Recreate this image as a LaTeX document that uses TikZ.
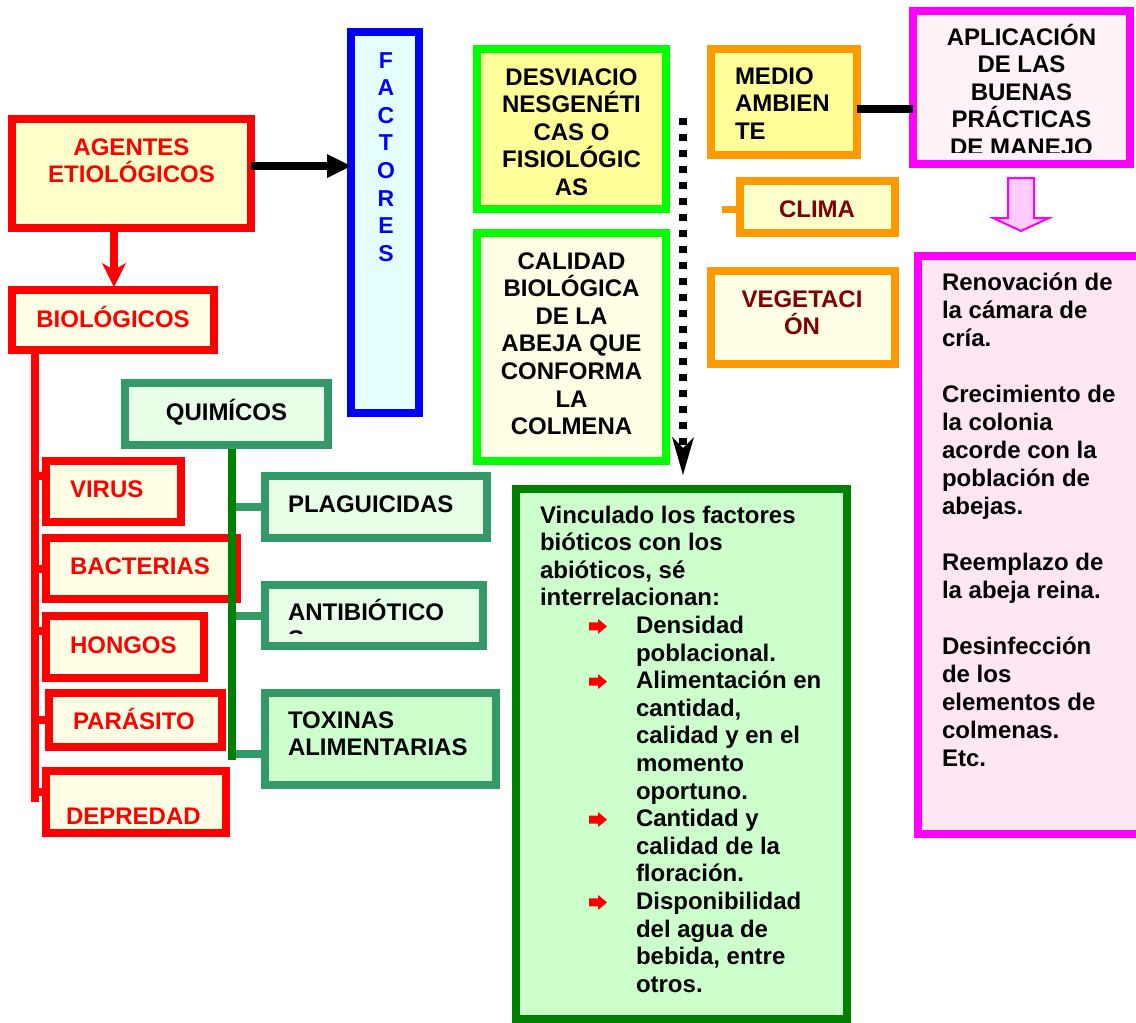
\documentclass[tikz,border=0pt]{standalone}
\usepackage{fontspec}
\setmainfont{Liberation Sans}
\usetikzlibrary{arrows.meta}
\definecolor{cRed}{HTML}{FF0000}
\definecolor{cYel}{HTML}{FFFFCC}
\definecolor{cPale}{HTML}{FFFFE5}
\definecolor{cBlue}{HTML}{0000FF}
\definecolor{cCyan}{HTML}{E3FFFF}
\definecolor{cLime}{HTML}{00FF00}
\definecolor{cYelB}{HTML}{FFFF99}
\definecolor{cOrange}{HTML}{FF9900}
\definecolor{cMag}{HTML}{FF00FF}
\definecolor{cPinkA}{HTML}{FFF2F9}
\definecolor{cPinkB}{HTML}{FFE6F3}
\definecolor{cSea}{HTML}{339966}
\definecolor{cMint}{HTML}{E6FFE6}
\definecolor{cMintB}{HTML}{CCFFCC}
\definecolor{cDkGreen}{HTML}{008000}
\definecolor{cDkRed}{HTML}{800000}
\definecolor{cArrPink}{HTML}{FFCCFF}
\newcommand\firstln{\rule{0pt}{24pt}}
\tikzset{
  bx/.style={draw, line width=8pt, inner sep=0pt, outer sep=0pt},
  tx/.style={inner sep=0pt, outer sep=0pt, font=\fontsize{24}{27.6}\selectfont\bfseries},
  txc/.style={tx, align=center, anchor=north},
  txl/.style={tx, align=left, anchor=north west},
  rline/.style={draw=cRed, line width=8pt},
  gstub/.style={draw=cSea, line width=8pt},
  gline/.style={draw=cDkGreen, line width=8pt},
  redbullet/.pic={\fill[cRed] (0,-4) -- (9,-4) -- (9,-7.5) -- (18,0) -- (9,7.5) -- (9,4) -- (0,4) -- cycle;}
}
\begin{document}
\begin{tikzpicture}[x=1pt,y=-1pt]
\useasboundingbox (0,0) rectangle (1136,1023);
\clip (0,0) rectangle (1136,1023);
\fill[white] (0,0) rectangle (1136,1023);

% ---------- boxes ----------
\node[bx, draw=cRed, fill=cYel, minimum width=239pt, minimum height=109pt] (agentes) at (131.5,173.5) {};
\node[bx, draw=cRed, fill=cPale, minimum width=202pt, minimum height=60pt] (biol) at (113,320) {};
\node[bx, draw=cBlue, fill=cCyan, minimum width=68pt, minimum height=381pt] (factores) at (385,222.5) {};
\node[bx, draw=cLime, fill=cYelB, minimum width=189pt, minimum height=160pt] (desv) at (571.5,129) {};
\node[bx, draw=cLime, fill=cPale, minimum width=189pt, minimum height=228pt] (calidad) at (571.5,347) {};
\node[bx, draw=cOrange, fill=cYelB, minimum width=146pt, minimum height=106pt] (medio) at (784,102) {};
\node[bx, draw=cMag, fill=cPinkA, minimum width=217pt, minimum height=153pt] (aplic) at (1021.5,87.5) {};
\node[bx, draw=cOrange, fill=cYel, minimum width=155pt, minimum height=52pt] (clima) at (817.5,207) {};
\node[bx, draw=cOrange, fill=cPale, minimum width=184pt, minimum height=93pt] (veget) at (803,317.5) {};
\node[bx, draw=cMag, fill=cPinkB, minimum width=228pt, minimum height=578pt] (buenas) at (1032,545) {};
\node[bx, draw=cSea, fill=cMint, minimum width=203pt, minimum height=62pt] (quim) at (226.5,414) {};
\node[bx, draw=cRed, fill=cPale, minimum width=135pt, minimum height=61pt] (virus) at (113.5,491.5) {};
\node[bx, draw=cRed, fill=cPale, minimum width=191pt, minimum height=61pt] (bact) at (141.5,568.5) {};
\node[bx, draw=cRed, fill=cPale, minimum width=158pt, minimum height=62pt] (hongos) at (125,647) {};
\node[bx, draw=cRed, fill=cPale, minimum width=173pt, minimum height=54pt] (parasito) at (135.5,720) {};
\node[bx, draw=cRed, fill=cPale, minimum width=180pt, minimum height=62pt] (depred) at (136,802) {};
\node[bx, draw=cSea, fill=cMint, minimum width=222pt, minimum height=62pt] (plag) at (376,507) {};
\node[bx, draw=cSea, fill=cMint, minimum width=218pt, minimum height=61pt] (antib) at (374,615.5) {};
\node[bx, draw=cSea, fill=cMintB, minimum width=231pt, minimum height=92pt] (toxinas) at (380.5,739) {};
\node[bx, draw=cDkGreen, fill=cMintB, minimum width=331pt, minimum height=530pt] (big) at (681.5,754) {};

% ---------- texts ----------
\node[txc, text=cRed] (tAgentes) at (131.5,131) {\firstln AGENTES\\ETIOLÓGICOS};
\node[txc, text=cRed] (tBiol) at (113,303) {\firstln BIOLÓGICOS};
\node[txc, text=cBlue, font=\fontsize{23}{27.6}\selectfont\bfseries] (tFact) at (386,44) {\firstln F\\A\\C\\T\\O\\R\\E\\S};
\node[txc] (tDesv) at (571.5,61) {\firstln DESVIACIO\\NESGENÉTI\\CAS O\\FISIOLÓGIC\\AS};
\node[txc] (tCal) at (571.5,245) {\firstln CALIDAD\\BIOLÓGICA\\DE LA\\ABEJA QUE\\CONFORMA\\LA\\COLMENA};
\node[txl] (tMedio) at (735,60) {\firstln MEDIO\\AMBIEN\\TE};
\begin{scope}
\clip (915,12) rectangle (1128,152);
\node[txc] (tAplic) at (1021.5,21) {\firstln APLICACIÓN\\DE LAS\\BUENAS\\PRÁCTICAS\\DE MANEJO};
\end{scope}
\node[txc, text=cDkRed] (tClima) at (817,193) {\firstln CLIMA};
\node[txc, text=cDkRed] (tVeg) at (802,283) {\firstln VEGETACI\\ÓN};
\node[txl, font=\fontsize{24}{28}\selectfont\bfseries] (tBuenas) at (942,266)
  {\firstln Renovación de\\la cámara de\\cría.\\[28pt]Crecimiento de\\la colonia\\acorde con la\\población de\\abejas.\\[28pt]Reemplazo de\\la abeja reina.\\[28pt]Desinfección\\de los\\elementos de\\colmenas.\\Etc.};
\node[txc] (tQuim) at (226.5,396) {\firstln QUIMÍCOS};
\node[txl, text=cRed] (tVirus) at (70,473) {\firstln VIRUS};
\node[txl, text=cRed] (tBact) at (70,550) {\firstln BACTERIAS};
\node[txl, text=cRed] (tHong) at (70,629) {\firstln HONGOS};
\node[txl, text=cRed] (tPar) at (73,705) {\firstln PARÁSITO};
\node[txl, text=cRed] (tDep) at (66,800) {\firstln DEPREDAD};
\node[txl] (tPlag) at (288,488) {\firstln PLAGUICIDAS};
\begin{scope}
\clip (266,585) rectangle (483,633);
\node[txl] (tAnti) at (288,596) {\firstln ANTIBIÓTICO\\S};
\end{scope}
\node[txl] (tTox) at (288,704) {\firstln TOXINAS\\ALIMENTARIAS};
\node[txl] (tBig1) at (540,499) {\firstln Vinculado los factores\\bióticos con los\\abióticos, sé\\interrelacionan:};
\node[txl] (tBig2) at (636,609.4) {\firstln Densidad\\poblacional.\\Alimentación en\\cantidad,\\calidad y en el\\momento\\oportuno.\\Cantidad y\\calidad de la\\floración.\\Disponibilidad\\del agua de\\bebida, entre\\otros.};
\pic at (589,626.4) {redbullet};
\pic at (589,681.6) {redbullet};
\pic at (589,819.6) {redbullet};
\pic at (589,902.4) {redbullet};

% ---------- connectors ----------
\coordinate (aout) at ([yshift=7.5pt]agentes.east);
\draw[line width=8pt, -{Triangle[length=24pt,width=24pt,line width=0pt]}] (aout) -- (aout -| factores.west);
\coordinate (ain) at ([xshift=-17.5pt]agentes.south);
\draw[rline, shorten >=3pt, -{Stealth[length=24pt,width=24pt,inset=7pt,line width=0pt]}] (ain) -- (ain |- biol.north);

\coordinate (rbot) at (35,802);
\draw[rline] (biol.south -| rbot) -- (rbot);
\coordinate (sVirus) at ([yshift=15.5pt]virus.west);
\coordinate (sHong) at ([yshift=16pt]hongos.west);
\coordinate (sDep) at ([yshift=10pt]depred.west);
\draw[rline] (rbot |- sVirus) -- (sVirus);
\draw[rline] (rbot |- bact.west) -- (bact.west);
\draw[rline] (rbot |- sHong) -- (sHong);
\draw[rline] (rbot |- parasito.west) -- (parasito.west);
\draw[rline] (rbot |- sDep) -- (sDep);

\coordinate (gtop) at ([xshift=5.5pt,yshift=-4pt]quim.south);
\coordinate (gbot) at (232,760);
\coordinate (sTox) at ([yshift=-15pt]toxinas.west);
\draw[gstub] (gtop |- plag.west) -- (plag.west);
\draw[gstub] (gtop |- antib.west) -- (antib.west);
\draw[gstub] (gtop |- sTox) -- (sTox);
\draw[gline] (gtop) -- (gbot);

\coordinate (mo) at ([yshift=-7pt]medio.east);
\draw[line width=8pt] (mo) -- (mo -| aplic.west);

\coordinate (cs) at (722,209);
\draw[draw=cOrange, line width=7pt] (cs) -- (cs -| clima.west);

\coordinate (dtop) at (683,118);
\draw[line width=8pt, dash pattern=on 7pt off 9pt, shorten >=14pt,
  -{Stealth[length=38pt,width=22pt,inset=11pt,line width=0pt]}] (dtop) -- (dtop |- big.north);

% pink block arrow
\filldraw[fill=cArrPink, draw=cMag, line width=2pt, line join=miter]
  (1008,178) -- (1034,178) -- (1034,218) -- (1049,218) -- (1021,231) -- (993,218) -- (1008,218) -- cycle;
\end{tikzpicture}
\end{document}
